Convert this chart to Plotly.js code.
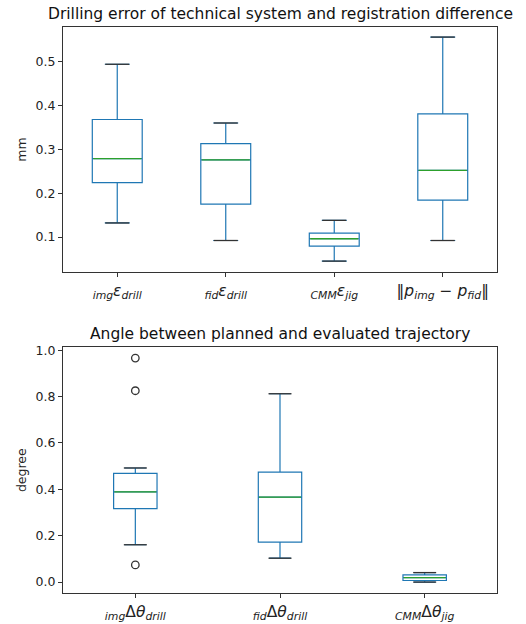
<!DOCTYPE html>
<html>
<head>
<meta charset="utf-8">
<script src="https://cdn.plot.ly/plotly-3.0.1.min.js"></script>
<style>html,body{margin:0;padding:0;background:#fff;}#chart{width:526px;height:624px;}</style>
</head>
<body>
<div id="chart"></div>
<script>
// ---- Data ----
const topCategories = [
  '<sub><i>img</i></sub><i>ε</i><sub><i>drill</i></sub>',
  '<sub><i>fid</i></sub><i>ε</i><sub><i>drill</i></sub>',
  '<sub><i>CMM</i></sub><i>ε</i><sub><i>jig</i></sub>',
  '‖<i>p</i><sub><i>img</i></sub> − <i>p</i><sub><i>fid</i></sub>‖'
];
const topLower  = [0.132, 0.092, 0.045, 0.092];
const topQ1     = [0.224, 0.175, 0.079, 0.184];
const topMedian = [0.279, 0.276, 0.096, 0.252];
const topQ3     = [0.368, 0.313, 0.109, 0.381];
const topUpper  = [0.494, 0.360, 0.138, 0.556];

const botCategories = [
  '<sub><i>img</i></sub>Δ<i>θ</i><sub><i>drill</i></sub>',
  '<sub><i>fid</i></sub>Δ<i>θ</i><sub><i>drill</i></sub>',
  '<sub><i>CMM</i></sub>Δ<i>θ</i><sub><i>jig</i></sub>'
];
const botLower  = [0.161, 0.103, 0.000];
const botQ1     = [0.317, 0.172, 0.007];
const botMedian = [0.389, 0.366, 0.019];
const botQ3     = [0.469, 0.474, 0.031];
const botUpper  = [0.492, 0.812, 0.041];
const botOutlierCat = [botCategories[0], botCategories[0], botCategories[0]];
const botOutlierVal = [0.966, 0.825, 0.074];

// ---- Styles ----
const BLUE = '#1f77b4', GREEN = '#2ca02c', DARK = '#333333';
const FONT = 'DejaVu Sans, sans-serif';
// Plotly's line-ew symbol spans 1.4 x its size in pixels
const LINE_K = 1.4;

function boxTrace(x, lo, q1, med, q3, hi, xa, ya, w) {
  return {
    type: 'box', x: x, lowerfence: lo, q1: q1, median: med, q3: q3, upperfence: hi,
    xaxis: xa, yaxis: ya, width: w, whiskerwidth: 0.5,
    line: {color: BLUE, width: 1.2}, fillcolor: 'rgba(255,255,255,0)',
    boxpoints: false, showlegend: false, hoverinfo: 'skip'
  };
}
function markTrace(x, y, xa, ya, size, color, symbol) {
  return {
    type: 'scatter', mode: 'markers', x: x, y: y, xaxis: xa, yaxis: ya,
    marker: {symbol: symbol, size: size, color: color, line: {color: color, width: 1.3}},
    showlegend: false, hoverinfo: 'skip', cliponaxis: false
  };
}

const data = [
  boxTrace(topCategories, topLower, topQ1, topMedian, topQ3, topUpper, 'x', 'y', 0.46),
  boxTrace(botCategories, botLower, botQ1, botMedian, botQ3, botUpper, 'x2', 'y2', 0.30),
  markTrace(topCategories, topMedian, 'x', 'y', 48 / LINE_K, GREEN, 'line-ew'),
  markTrace(topCategories, topUpper, 'x', 'y', 24 / LINE_K, DARK, 'line-ew'),
  markTrace(topCategories, topLower, 'x', 'y', 24 / LINE_K, DARK, 'line-ew'),
  markTrace(botCategories, botMedian, 'x2', 'y2', 42 / LINE_K, GREEN, 'line-ew'),
  markTrace(botCategories, botUpper, 'x2', 'y2', 23 / LINE_K, DARK, 'line-ew'),
  markTrace(botCategories, botLower, 'x2', 'y2', 23 / LINE_K, DARK, 'line-ew'),
  markTrace(botOutlierCat, botOutlierVal, 'x2', 'y2', 7.5, DARK, 'circle-open')
];

const axisCommon = {
  showline: true, mirror: true, linecolor: DARK, linewidth: 1,
  ticks: 'outside', ticklen: 4, tickcolor: DARK, tickwidth: 1,
  showgrid: false, zeroline: false,
  tickfont: {family: FONT, size: 12.5, color: '#222'}
};
const xTickFont = {family: FONT, size: 15.5, color: '#222'};
const yTitleFont = {family: FONT, size: 12.5, color: '#222'};

const layout = {
  width: 526, height: 624,
  margin: {l: 63, r: 29, t: 27, b: 31},
  paper_bgcolor: '#fff', plot_bgcolor: '#fff',
  font: {family: FONT, color: '#222'},
  showlegend: false,
  xaxis: Object.assign({}, axisCommon, {domain: [0, 1], anchor: 'y', type: 'category',
    range: [-0.5, 3.5], tickfont: xTickFont}),
  yaxis: Object.assign({}, axisCommon, {domain: [0.567, 1], anchor: 'x',
    range: [0.02, 0.579], tickvals: [0.1, 0.2, 0.3, 0.4, 0.5], tickformat: '.1f',
    title: {text: 'mm', font: yTitleFont, standoff: 6}}),
  xaxis2: Object.assign({}, axisCommon, {domain: [0, 1], anchor: 'y2', type: 'category',
    range: [-0.5, 2.5], tickfont: xTickFont}),
  yaxis2: Object.assign({}, axisCommon, {domain: [0, 0.434], anchor: 'x2',
    range: [-0.047, 1.012], tickvals: [0, 0.2, 0.4, 0.6, 0.8, 1.0], tickformat: '.1f',
    title: {text: 'degree', font: yTitleFont, standoff: 6}}),
  annotations: [
    {text: 'Drilling error of technical system and registration difference', xref: 'paper', yref: 'paper',
      x: 0.5, y: 1, yshift: 2, xanchor: 'center', yanchor: 'bottom', showarrow: false,
      font: {family: FONT, size: 15.5, color: '#111'}},
    {text: 'Angle between planned and evaluated trajectory', xref: 'paper', yref: 'paper',
      x: 0.5, y: 0.434, yshift: 2, xanchor: 'center', yanchor: 'bottom', showarrow: false,
      font: {family: FONT, size: 15.5, color: '#111'}}
  ]
};

Plotly.newPlot('chart', data, layout, {displayModeBar: false, staticPlot: true});
</script>
</body>
</html>
